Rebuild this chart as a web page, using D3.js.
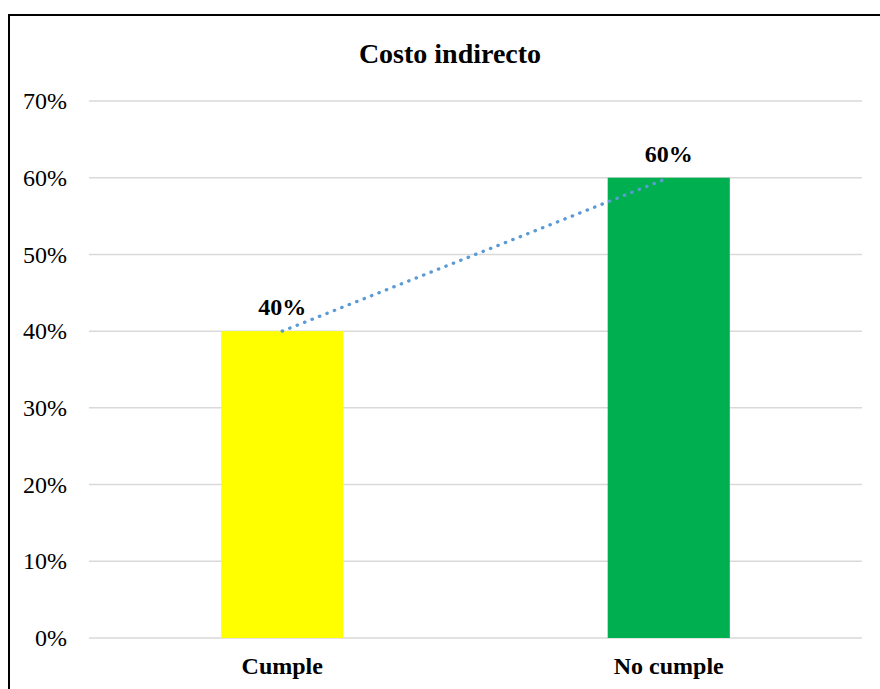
<!DOCTYPE html>
<html>
<head>
<meta charset="utf-8">
<script src="https://cdn.jsdelivr.net/npm/d3@7"></script>
<style>
html, body { margin: 0; padding: 0; background: #fff; }
svg { display: block; }
text { font-family: "Liberation Serif", "Times New Roman", serif; fill: #000; }
</style>
</head>
<body>
<svg id="chart" width="880" height="689"></svg>
<script>
const categories = ["Cumple", "No cumple"];
const values = [0.40, 0.60];
const barColors = ["#FFFF00", "#00B050"];
const yTicks = [0, 0.1, 0.2, 0.3, 0.4, 0.5, 0.6, 0.7];
const title = "Costo indirecto";

const svg = d3.select("#chart");
const W = 880, H = 689;
const margin = { left: 89, right: 18, top: 101, bottom: 51 };
const plotRight = W - margin.right; // 862
const plotBottom = H - margin.bottom; // 638

// outer border
svg.append("rect")
  .attr("x", 9).attr("y", 15)
  .attr("width", 900).attr("height", 700)
  .attr("fill", "none").attr("stroke", "#000").attr("stroke-width", 2);

const x = d3.scaleBand()
  .domain(categories)
  .range([margin.left, plotRight])
  .paddingInner(0.684).paddingOuter(0.342);

const y = d3.scaleLinear()
  .domain([0, 0.7])
  .range([plotBottom, margin.top]);

// gridlines
svg.append("g")
  .selectAll("line")
  .data(yTicks)
  .join("line")
  .attr("x1", margin.left).attr("x2", plotRight)
  .attr("y1", d => y(d)).attr("y2", d => y(d))
  .attr("stroke", "#D9D9D9").attr("stroke-width", 1.5);

// y axis labels
const yAxis = d3.axisLeft(y).tickValues(yTicks).tickFormat(d3.format(".0%")).tickSize(0).tickPadding(0);
const gy = svg.append("g").attr("transform", `translate(67,0)`).call(yAxis);
gy.select(".domain").remove();
gy.selectAll("text")
  .attr("font-size", 24)
  .style("font-family", '"Liberation Serif", "Times New Roman", serif')
  .attr("fill", "#000");

// bars
svg.append("g")
  .selectAll("rect")
  .data(categories)
  .join("rect")
  .attr("x", d => x(d))
  .attr("width", x.bandwidth())
  .attr("y", (d, i) => y(values[i]))
  .attr("height", (d, i) => y(0) - y(values[i]))
  .attr("fill", (d, i) => barColors[i]);

// trend line (linear, dotted)
const cx = d => x(d) + x.bandwidth() / 2;
svg.append("path")
  .datum(categories.map((c, i) => [cx(c), y(values[i])]))
  .attr("d", d3.line())
  .attr("fill", "none")
  .attr("stroke", "#5B9BD5")
  .attr("stroke-width", 3.3)
  .attr("stroke-linecap", "round")
  .attr("stroke-dasharray", "0.4 7.6");

// data labels
svg.append("g")
  .selectAll("text")
  .data(categories)
  .join("text")
  .attr("x", d => cx(d))
  .attr("y", (d, i) => y(values[i]) - 16)
  .attr("text-anchor", "middle")
  .attr("font-size", 24)
  .attr("font-weight", "bold")
  .text((d, i) => d3.format(".0%")(values[i]));

// category labels
const xAxis = d3.axisBottom(x).tickSize(0).tickPadding(0);
const gx = svg.append("g").attr("transform", `translate(0,${plotBottom})`).call(xAxis);
gx.select(".domain").remove();
gx.selectAll("text")
  .attr("dy", null)
  .attr("y", 36)
  .attr("font-size", 24)
  .attr("font-weight", "bold")
  .style("font-family", '"Liberation Serif", "Times New Roman", serif')
  .attr("fill", "#000");

// title
svg.append("text")
  .attr("x", 450).attr("y", 63)
  .attr("text-anchor", "middle")
  .attr("font-size", 28)
  .attr("font-weight", "bold")
  .text(title);
</script>
</body>
</html>
